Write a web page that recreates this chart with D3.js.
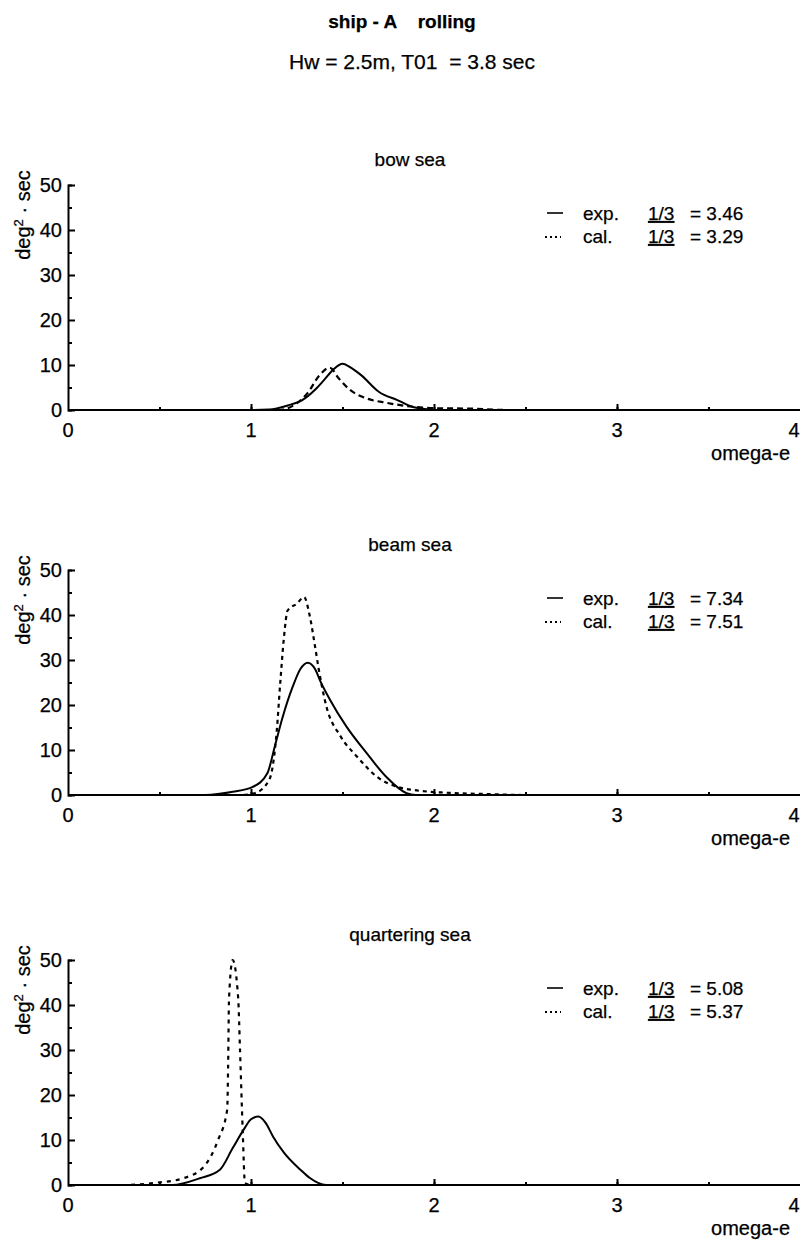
<!DOCTYPE html>
<meta charset="utf-8">
<head>
  <title>ship-A rolling spectra</title>
  <style>
    body { margin: 0; background: #fff; }
    text { font-family: "Liberation Sans", Arial, sans-serif; fill: #000; stroke: #000; stroke-width: 0.25; }
  </style>
</head>

<body>
  <svg width="804" height="1242"></svg>

  <script src="https://cdn.jsdelivr.net/npm/d3@7/dist/d3.min.js"></script>
  <script>
// panels, top to bottom
var panelTitles = ['bow sea', 'beam sea', 'quartering sea'];
var expH13 = ['3.46', '7.34', '5.08'];
var calH13 = ['3.29', '7.51', '5.37'];

// bow sea
var bowExpW = [0, 1.0, 1.1, 1.2, 1.28, 1.35, 1.4, 1.45, 1.5, 1.55, 1.6, 1.7, 1.8, 1.89, 1.95, 2.0, 4.0];
var bowExpS = [0, 0, 0.1, 1.0, 2.2, 4.5, 6.7, 9.0, 10.3, 9.3, 7.8, 4.0, 2.2, 0.6, 0.2, 0, 0];
var bowCalW = [0, 1.15, 1.25, 1.31, 1.37, 1.43, 1.48, 1.54, 1.63, 1.74, 1.89, 2.0, 2.2, 2.4, 4.0];
var bowCalS = [0, 0, 1.5, 3.8, 7.5, 9.4, 7.0, 4.5, 2.6, 1.6, 0.7, 0.4, 0.3, 0, 0];

// beam sea
var beamExpW = [0, 0.75, 0.9, 1.01, 1.09, 1.13, 1.17, 1.23, 1.27, 1.31, 1.35, 1.38, 1.43, 1.52, 1.63, 1.74, 1.85, 1.9, 4.0];
var beamExpS = [0, 0, 0.7, 1.8, 4.9, 10.8, 16.9, 24.3, 28.0, 29.4, 28.0, 25.2, 21.3, 15.3, 9.4, 4.0, 0.4, 0, 0];
var beamCalW = [0, 0.95, 1.02, 1.1, 1.14, 1.16, 1.18, 1.2, 1.25, 1.29, 1.32, 1.35, 1.37, 1.41, 1.49, 1.58, 1.69, 1.8, 1.89, 2.07, 2.3, 2.5, 4.0];
var beamCalS = [0, 0, 0.4, 3.4, 13.9, 25, 35, 41, 42.5, 44, 40, 33, 28, 20, 13, 8.5, 4.0, 1.8, 1.1, 0.5, 0.2, 0, 0];

// quartering sea
var quarExpW = [0, 0.57, 0.72, 0.83, 0.9, 0.96, 1.0, 1.04, 1.08, 1.12, 1.18, 1.27, 1.32, 1.41, 4.0];
var quarExpS = [0, 0, 1.5, 3.4, 8.2, 12.3, 14.6, 15.2, 13.8, 10.8, 7.2, 3.4, 1.6, 0, 0];
var quarCalW = [0, 0.3, 0.48, 0.63, 0.74, 0.82, 0.87, 0.875, 0.88, 0.9, 0.93, 0.94, 0.955, 0.967, 1.0, 4.0];
var quarCalS = [0, 0, 0.5, 1.5, 4.0, 10.0, 16.8, 26.5, 41.5, 50, 41.5, 30, 11.7, 0.4, 0, 0];

var xTicks = [0, 1, 2, 3, 4];
var yTicks = [0, 10, 20, 30, 40, 50];

var expSeries = [[bowExpW, bowExpS], [beamExpW, beamExpS], [quarExpW, quarExpS]];
var calSeries = [[bowCalW, bowCalS], [beamCalW, beamCalS], [quarCalW, quarCalS]];
var calDash = ['6,4', '4,4', '4,5'];

var panelTop = [185, 570, 960];
var panelH = 225;

var svg = d3.select('svg');

svg.append('text')
  .attr('x', 402).attr('y', 28)
  .attr('text-anchor', 'middle')
  .style('font-size', '19px').style('font-weight', 'bold')
  .attr('xml:space', 'preserve')
  .text('ship - A    rolling');

svg.append('text')
  .attr('x', 412).attr('y', 69)
  .attr('text-anchor', 'middle')
  .style('font-size', '21px')
  .attr('xml:space', 'preserve')
  .text('Hw = 2.5m, T01  = 3.8 sec');

var x = d3.scaleLinear().domain([0, 4]).range([68, 800]);

function zip(w, s) {
  return w.map(function(d, i) { return [d, s[i]]; });
}

panelTitles.forEach(function(title, p) {
  var y = d3.scaleLinear().domain([0, 50]).range([panelTop[p] + panelH, panelTop[p]]);
  var g = svg.append('g');

  var line = d3.line()
    .x(function(d) { return x(d[0]); })
    .y(function(d) { return y(d[1]); })
    .curve(d3.curveMonotoneX);

  // axes
  var xAxis = g.append('g')
    .attr('transform', 'translate(0,' + y(0) + ')')
    .call(d3.axisTop(x).tickValues(d3.range(0.5, 4, 0.5)).tickSize(3).tickFormat(''));
  g.append('g')
    .attr('transform', 'translate(0,' + y(0) + ')')
    .call(d3.axisTop(x).tickValues([1, 2, 3]).tickSize(6).tickFormat(''))
    .select('.domain').remove();
  xAxis.select('.domain').attr('d', 'M' + x(0) + ',0H795');

  g.append('g')
    .attr('transform', 'translate(' + x(0) + ',0)')
    .call(d3.axisRight(y).tickValues(d3.range(5, 50, 10)).tickSize(4).tickFormat(''));
  g.append('g')
    .attr('transform', 'translate(' + x(0) + ',0)')
    .call(d3.axisRight(y).tickValues(yTicks).tickSize(7).tickFormat(''))
    .select('.domain').remove();
  g.selectAll('.domain, .tick line').attr('stroke', '#000').attr('stroke-width', 2);

  // tick labels (the last one is pulled in so it stays on the page)
  g.selectAll('.xlab').data(xTicks).enter().append('text')
    .attr('x', function(d) { return Math.min(x(d), 794); })
    .attr('y', y(0) + 27)
    .attr('text-anchor', 'middle')
    .style('font-size', '20px')
    .text(function(d) { return d; });
  g.selectAll('.ylab').data(yTicks).enter().append('text')
    .attr('x', 62)
    .attr('y', function(d) { return y(d) + 7; })
    .attr('text-anchor', 'end')
    .style('font-size', '20px')
    .text(function(d) { return d; });

  g.append('text')
    .attr('x', 790).attr('y', y(0) + 50)
    .attr('text-anchor', 'end')
    .style('font-size', '20px')
    .text('omega-e');

  var yl = g.append('text')
    .attr('transform', 'translate(30,' + (panelTop[p] + 30) + ') rotate(-90)')
    .attr('text-anchor', 'middle')
    .style('font-size', '20px');
  yl.append('tspan').text('deg');
  yl.append('tspan').attr('dy', -7).style('font-size', '13px').text('2');
  yl.append('tspan').attr('dy', 7).text(' \u00b7 sec');

  g.append('text')
    .attr('x', 410).attr('y', panelTop[p] - 19)
    .attr('text-anchor', 'middle')
    .style('font-size', '19px')
    .text(title);

  // curves
  g.append('path')
    .attr('d', line(zip(calSeries[p][0], calSeries[p][1])))
    .attr('fill', 'none').attr('stroke', '#000')
    .attr('stroke-width', 2.2).attr('stroke-dasharray', calDash[p]);
  g.append('path')
    .attr('d', line(zip(expSeries[p][0], expSeries[p][1])))
    .attr('fill', 'none').attr('stroke', '#000')
    .attr('stroke-width', 2);

  // legend
  var ly = panelTop[p] + 35;
  g.append('line').attr('x1', 547).attr('x2', 563).attr('y1', ly - 7).attr('y2', ly - 7)
    .attr('stroke', '#000').attr('stroke-width', 1.6);
  g.append('line').attr('x1', 545).attr('x2', 561).attr('y1', ly + 17).attr('y2', ly + 17)
    .attr('stroke', '#000').attr('stroke-width', 2).attr('stroke-dasharray', '2,3');

  [['exp.', expH13[p], ly], ['cal.', calH13[p], ly + 23]].forEach(function(r) {
    g.append('text').attr('x', 583).attr('y', r[2]).style('font-size', '19px').text(r[0]);
    g.append('text').attr('x', 648).attr('y', r[2]).style('font-size', '19px')
      .style('text-decoration', 'underline').text('1/3');
    g.append('text').attr('x', 690).attr('y', r[2]).style('font-size', '19px')
      .text('= ' + r[1]);
  });
});
  </script>
</body>
</html>
